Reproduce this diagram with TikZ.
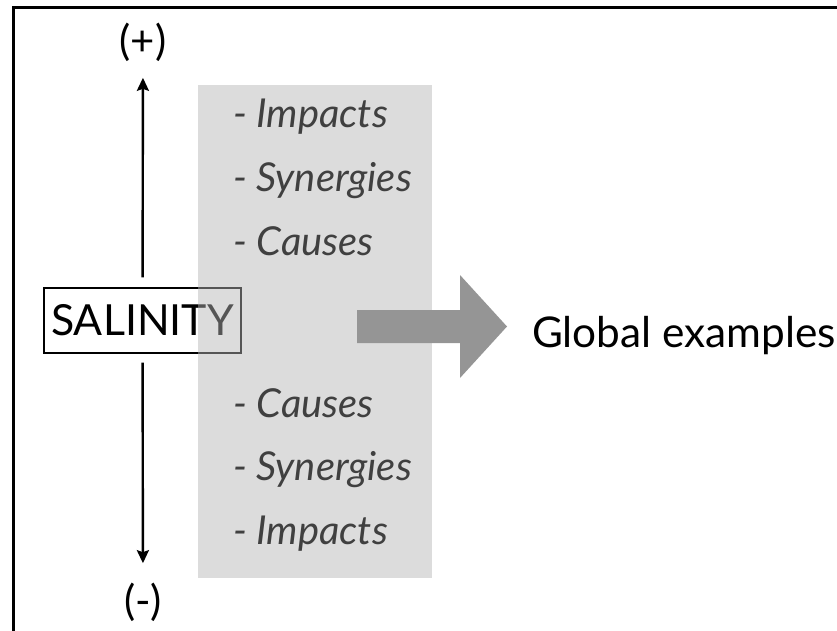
\documentclass[tikz,border=0pt]{standalone}
\usepackage{fontspec}
\usepackage{xcolor}
\usepackage{tikz}
\usetikzlibrary{positioning, arrows.meta}
\setmainfont{Lato}

\definecolor{panelgray}{gray}{0.71}
\definecolor{arrowgray}{HTML}{959595}
\definecolor{itemgray}{HTML}{404040}

\begin{document}
\begin{tikzpicture}[x=1bp, y=-1bp, node distance=63.5bp, on grid,
        sign/.style={font=\fontsize{42}{42}\selectfont},
        item/.style={anchor=base west, inner sep=0pt, text=itemgray,
            font=\fontsize{40}{40}\selectfont\itshape},
        axis/.style={line width=2.4bp, -{Stealth[length=13bp, width=12bp, inset=2bp]}}]
        \useasboundingbox (0,0) rectangle (837,631);
        % frame (top and left only)
        \draw[line width=3bp] (13,631) -- (13,8) -- (837,8);

        \node[draw, line width=1.2bp, minimum width=197bp, minimum height=65bp,
            inner sep=0pt, font=\fontsize{43}{43}\selectfont] (sal) at (142.5,320.5) {SALINITY};
        \node[sign] (plus) at (143,42) {(+)};
        \node[sign] (minus) at (143,602) {(-)};

        \draw[axis, shorten <=10bp, shorten >=13bp] (sal) -- (plus);
        \draw[axis, shorten <=9bp, shorten >=16bp] (sal) -- (minus);

        % shaded panel, lying over the box
        \fill[panelgray, fill opacity=0.47] (198,85) rectangle (432,578);

        \node[item] (imp1) at (233,128) {- Impacts};
        \node[item] (syn1) [below=of imp1.base west, anchor=base west] {- Synergies};
        \node[item] (cau1) [below=of syn1.base west, anchor=base west] {- Causes};
        \node[item] (cau2) at (233,417) {- Causes};
        \node[item] (syn2) [below=of cau2.base west, anchor=base west] {- Synergies};
        \node[item] (imp2) [below=of syn2.base west, anchor=base west] {- Impacts};

        % big arrow
        \fill[arrowgray] (357,310) -- (460,310) -- (460,275) -- (507,326.5)
            -- (460,378) -- (460,343) -- (357,343) -- cycle;
        \node[anchor=base west, inner sep=0pt, font=\fontsize{42.5}{42.5}\selectfont] (glob) at (532,347) {Global examples};
    \end{tikzpicture}
\end{document}
